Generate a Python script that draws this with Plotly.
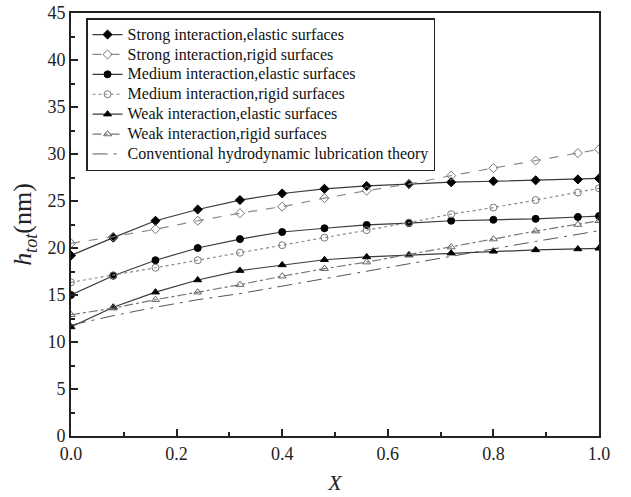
import plotly.graph_objects as go

x_vals = [0.0, 0.08, 0.16, 0.24, 0.32, 0.40, 0.48, 0.56, 0.64, 0.72, 0.80, 0.88, 0.96, 1.0]

strong_elastic = [19.2, 21.1, 22.9, 24.1, 25.1, 25.8, 26.3, 26.6, 26.8, 27.0, 27.1, 27.2, 27.3, 27.4]
strong_rigid = [20.5, 21.2, 22.0, 22.9, 23.7, 24.4, 25.3, 26.1, 26.8, 27.7, 28.5, 29.3, 30.1, 30.5]
medium_elastic = [15.0, 17.05, 18.7, 20.0, 20.95, 21.7, 22.1, 22.45, 22.65, 22.9, 23.0, 23.1, 23.3, 23.4]
medium_rigid = [16.35, 17.1, 17.9, 18.7, 19.5, 20.3, 21.1, 21.9, 22.7, 23.6, 24.3, 25.1, 25.9, 26.35]
weak_elastic = [11.6, 13.7, 15.3, 16.6, 17.6, 18.2, 18.75, 19.05, 19.25, 19.45, 19.65, 19.8, 19.9, 19.97]
weak_rigid = [12.9, 13.6, 14.5, 15.3, 16.1, 17.0, 17.8, 18.5, 19.3, 20.1, 20.95, 21.8, 22.5, 22.9]
conventional = [11.8, 12.8, 13.7, 14.5, 15.15, 15.95, 16.75, 17.5, 18.3, 19.1, 19.9, 20.7, 21.45, 21.85]

names = [
    "Strong interaction,elastic surfaces",
    "Strong interaction,rigid surfaces",
    "Medium interaction,elastic surfaces",
    "Medium interaction,rigid surfaces",
    "Weak interaction,elastic surfaces",
    "Weak interaction,rigid surfaces",
    "Conventional hydrodynamic lubrication theory",
]

x_ticks = [0.0, 0.2, 0.4, 0.6, 0.8, 1.0]
x_tick_labels = ["0.0", "0.2", "0.4", "0.6", "0.8", "1.0"]

series = [strong_elastic, strong_rigid, medium_elastic, medium_rigid, weak_elastic, weak_rigid, conventional]
styles = [
    dict(dash="solid", color="#3a3a3a", symbol="diamond", mcolor="black", lcolor="black"),
    dict(dash="dash", color="#8a8a8a", symbol="diamond-open", mcolor="#777777", lcolor="#777777"),
    dict(dash="solid", color="#3a3a3a", symbol="circle", mcolor="black", lcolor="black"),
    dict(dash="dot", color="#8a8a8a", symbol="circle-open", mcolor="#777777", lcolor="#777777"),
    dict(dash="solid", color="#3a3a3a", symbol="triangle-up", mcolor="black", lcolor="black"),
    dict(dash="dashdot", color="#777777", symbol="triangle-up-open", mcolor="#666666", lcolor="#666666"),
    dict(dash="longdashdot", color="#555555", symbol=None, mcolor=None, lcolor=None),
]

fig = go.Figure()
for name, ys, st in zip(names, series, styles):
    label = '<span style="font-size:16px">' + name + '</span>'
    if st["symbol"] is None:
        fig.add_trace(go.Scatter(x=x_vals, y=ys, name=label, mode="lines",
                                 line=dict(color=st["color"], width=1, dash=st["dash"])))
    else:
        fig.add_trace(go.Scatter(
            x=x_vals, y=ys, name=label, mode="lines+markers",
            line=dict(color=st["color"], width=1.2, dash=st["dash"]),
            marker=dict(symbol=st["symbol"], size=7, color=st["mcolor"],
                        line=dict(color=st["lcolor"], width=1)),
        ))

axis_font = dict(family="Liberation Serif", size=18, color="#222222")
fig.update_layout(
    width=631, height=497,
    margin=dict(l=71, r=32, t=13, b=61),
    paper_bgcolor="white", plot_bgcolor="white",
    showlegend=True,
    legend=dict(
        x=0.0285, y=0.988, xanchor="left", yanchor="top",
        bgcolor="white", bordercolor="#222222", borderwidth=1.5,
        font=dict(family="Liberation Serif", size=13, color="#111111"),
        tracegroupgap=0, itemwidth=30,
    ),
    xaxis=dict(
        range=[0, 1.0], tickvals=x_ticks, ticktext=x_tick_labels,
        ticks="inside", ticklen=7, tickwidth=1.5, tickcolor="#222222",
        minor=dict(ticks="inside", ticklen=4, dtick=0.1, tickwidth=1.5, tickcolor="#222222"),
        showline=True, linecolor="#222222", linewidth=2, mirror=True,
        showgrid=False, zeroline=False, automargin=False,
        tickfont=axis_font,
        title=dict(text="<i>X</i>", font=dict(family="Liberation Serif", size=22, color="#222222"), standoff=12),
    ),
    yaxis=dict(
        range=[0, 45], dtick=5,
        ticks="inside", ticklen=7, tickwidth=1.5, tickcolor="#222222",
        minor=dict(ticks="inside", ticklen=4, dtick=2.5, tickwidth=1.5, tickcolor="#222222"),
        showline=True, linecolor="#222222", linewidth=2, mirror=True,
        showgrid=False, zeroline=False, automargin=False,
        tickfont=axis_font,
        title=dict(text="<i>h</i><sub><i>tot</i></sub>(nm)",
                   font=dict(family="Liberation Serif", size=26, color="#222222"), standoff=8),
    ),
)

fig.write_html("out.html")
